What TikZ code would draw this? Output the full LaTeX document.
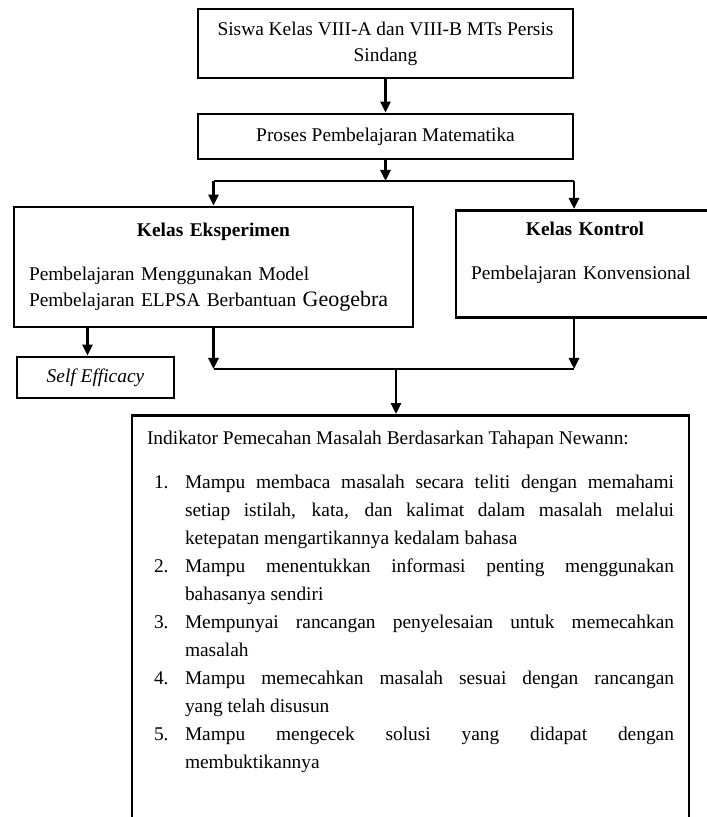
\documentclass[tikz,border=0pt]{standalone}
\usepackage{fontspec}
\setmainfont{Liberation Serif}
\usepackage{enumitem}
\usetikzlibrary{arrows.meta}

\begin{document}
\begin{tikzpicture}[x=0.5pt,y=-0.5pt,
        box/.style={draw,line width=1.35pt,inner sep=0pt,
            font=\fontsize{9.7}{13}\selectfont},
        arr/.style={line width=1.3pt,-{Triangle[length=5.5pt,width=5pt]}},
        joinline/.style={line width=1.3pt}]
    \useasboundingbox (0,0) rectangle (706,817);

	\node[box,minimum width=187.5pt,minimum height=34.5pt,align=center] (siswa) at (385.5,43.5)
        {Siswa Kelas VIII-A dan VIII-B MTs Persis\\Sindang};
    \node[box,minimum width=187.5pt,minimum height=22.5pt] (proses) at (385.5,136.5)
        {Proses Pembelajaran Matematika};

    \node[box,minimum width=199.5pt,minimum height=60pt,text width=184.5pt,align=left] (eks) at (213.5,267)
        {{\centering\textbf{Kelas Eksperimen}\par}\vspace{9pt}Pembelajaran Menggunakan Model\\
        Pembelajaran ELPSA Berbantuan {\fontsize{11}{13}\selectfont Geogebra}};
    \node[box,anchor=north,minimum width=129pt,minimum height=53.5pt,text width=114pt,align=left] (kon) at (585,209)
        {{\centering\textbf{Kelas Kontrol}\par}\vspace{9pt}Pembelajaran Konvensional\rule[-13pt]{0pt}{13pt}};

    \node[box,minimum width=78.5pt,minimum height=20.5pt] (se) at (95.5,377.5) {\textit{Self Efficacy}};

    \node[box,anchor=north,text width=263.5pt,inner xsep=7.5pt,inner ysep=8pt,align=justify,
        font=\fontsize{9.7}{14}\selectfont] (ind) at (410.5,414)
        {Indikator Pemecahan Masalah Berdasarkan Tahapan Newann:
        \begin{enumerate}[label=\arabic*.,leftmargin=19pt,labelindent=3.5pt,labelwidth=15.5pt,
            labelsep=0pt,align=left,topsep=8pt,partopsep=0pt,itemsep=0pt,parsep=0pt]
        \item Mampu membaca masalah secara teliti dengan memahami\linebreak
            setiap istilah, kata, dan kalimat dalam masalah melalui\linebreak
            ketepatan mengartikannya kedalam bahasa
        \item Mampu menentukkan informasi penting menggunakan\linebreak bahasanya sendiri
        \item Mempunyai rancangan penyelesaian untuk memecahkan\linebreak masalah
        \item Mampu memecahkan masalah sesuai dengan rancangan\linebreak yang telah disusun
        \item Mampu mengecek solusi yang didapat dengan\linebreak
            membuktikannya\rule[-50pt]{0pt}{50pt}
        \end{enumerate}};

    \coordinate (j1) at (385.5,181);
    \coordinate (jl1) at (213.5,181);
    \coordinate (jr1) at (574,181);
    \coordinate (jl2) at (213.5,369);
    \coordinate (jr2) at (574,369);
    \coordinate (j2) at (396,369);

    \draw[arr] (siswa) -- (proses);
    \draw[arr] (proses) -- (j1);
    \draw[joinline] (jl1) -- (jr1);
    \draw[arr] (jl1) -- (eks);
    \draw[arr] (jr1) -- (jr1 |- kon.north);

    \draw[arr] ([xshift=-4pt]se.north |- eks.south) -- ([xshift=-4pt]se.north);
    \draw[arr] (eks) -- (jl2);
    \draw[arr] (kon.south -| jr2) -- (jr2);
    \draw[joinline] (jl2) -- (jr2);
    \draw[arr] (j2) -- (j2 |- ind.north);
\end{tikzpicture}
\end{document}
